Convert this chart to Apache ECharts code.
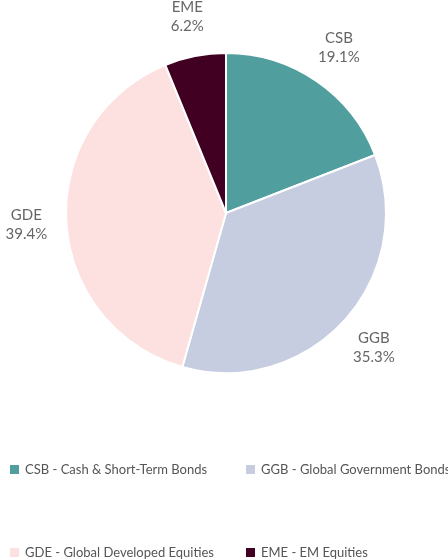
<!DOCTYPE html>
<html><head><meta charset="utf-8">
<script src="https://cdn.jsdelivr.net/npm/echarts@6/dist/echarts.min.js"></script>
<style>html,body{margin:0;padding:0;background:#fff}#c{width:448px;height:560px}</style>
</head><body><div id="c"></div>
<script>
const categories = ['CSB', 'GGB', 'GDE', 'EME'];
const fullNames = ['CSB - Cash & Short-Term Bonds', 'GGB - Global Government Bonds', 'GDE - Global Developed Equities', 'EME - EM Equities'];
const values = [19.1, 35.3, 39.4, 6.2];
const colors = ['#519e9e', '#c6cde1', '#fde0e0', '#410021'];

const chart = echarts.init(document.getElementById('c'));
const FONT = 'Lato';
const data = categories.map((c, i) => ({ name: c, value: values[i], itemStyle: { color: colors[i] } }));
const labelData = categories.map((c, i) => ({ name: c, value: values[i] }));
const legendPos = [[8, 463], [244, 463], [8, 546], [244, 546]];
const legends = categories.map((c, i) => ({
  data: [c], left: legendPos[i][0], top: legendPos[i][1], padding: 0, icon: 'rect', itemWidth: 11, itemHeight: 11, itemGap: 5,
  selectedMode: false,
  formatter: n => fullNames[categories.indexOf(n)],
  textStyle: { fontFamily: FONT, fontSize: 13, color: '#555' }
}));
chart.setOption({
  animation: false,
  legend: legends,
  series: [{
    type: 'pie', center: [226, 213], radius: [0, 160], startAngle: 90, clockwise: true,
    itemStyle: { borderColor: '#fff', borderWidth: 2 },
    label: { show: false }, labelLine: { show: false },
    data: data
  }, {
    type: 'pie', center: [226, 213], radius: [186, 208], startAngle: 90, clockwise: true, silent: true,
    itemStyle: { color: 'rgba(0,0,0,0)' },
    label: { show: true, position: 'inside', fontFamily: FONT, fontSize: 15, color: '#666', lineHeight: 19,
      formatter: p => p.name + '\n' + p.value.toFixed(1) + '%' },
    labelLine: { show: false },
    data: labelData
  }]
});
</script></body></html>
